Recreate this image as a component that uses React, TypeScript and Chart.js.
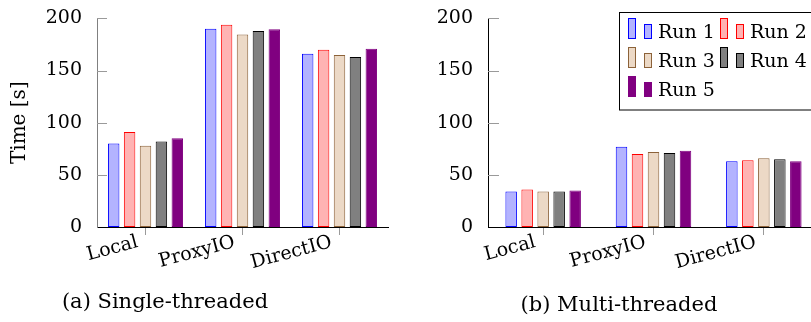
import React, { useEffect, useRef } from "react";
import { Chart, registerables } from "chart.js";

Chart.register(...registerables);

const categories = ["Local", "ProxyIO", "DirectIO"];
const runLabels = ["Run 1", "Run 2", "Run 3", "Run 4", "Run 5"];
const yTicks = [0, 50, 100, 150, 200];

// Single-threaded
const singleRun1 = [80, 190, 166];
const singleRun2 = [91, 194, 170];
const singleRun3 = [78, 184.5, 165];
const singleRun4 = [82, 188, 163];
const singleRun5 = [85, 189.5, 171];

// Multi-threaded
const multiRun1 = [34, 77, 63];
const multiRun2 = [36, 70, 64];
const multiRun3 = [34, 72, 66];
const multiRun4 = [34, 71, 65];
const multiRun5 = [35, 73, 63];

const fills = ["#b3b3ff", "#ffb3b3", "#ecd9c6", "#808080", "#800080"];
const borders = ["#0000ff", "#ff0000", "#8c6239", "#000000", "#800080"];

const FONT = "'DejaVu Serif', serif";

function makeInwardTicks(len: number) {
  return {
    id: "inwardTicks",
    beforeDatasetsDraw(chart: any) {
      const y = chart.scales.y;
      const ctx = chart.ctx;
      const left = chart.chartArea.left;
      ctx.save();
      ctx.strokeStyle = "#9a9a9a";
      ctx.lineWidth = 1;
      yTicks.forEach((v) => {
        if (v === 0) return;
        const p = Math.round(y.getPixelForValue(v)) + 0.5;
        ctx.beginPath();
        ctx.moveTo(left, p);
        ctx.lineTo(left + len, p);
        ctx.stroke();
      });
      ctx.restore();
    },
  };
}

const legendPlugin = {
  id: "boxLegend",
  afterDraw(chart: any) {
    const ctx = chart.ctx;
    const ds = chart.data.datasets;
    ctx.save();
    ctx.strokeStyle = "#000";
    ctx.lineWidth = 1;
    ctx.fillStyle = "#fff";
    ctx.fillRect(219.5, 12.5, chart.width, 97.5);
    ctx.strokeRect(219.5, 12.5, chart.width, 97.5);
    ctx.font = `19px ${FONT}`;
    ctx.textBaseline = "alphabetic";
    ctx.textAlign = "left";
    const colX = [228, 320];
    const rowY = [38, 67, 96];
    ds.forEach((d: any, i: number) => {
      const col = i % 2;
      const row = Math.floor(i / 2);
      const x = colX[col];
      const base = rowY[row];
      ctx.fillStyle = d.backgroundColor;
      ctx.strokeStyle = d.borderColor;
      ctx.fillRect(x + 0.5, base - 20 + 0.5, 7, 20);
      ctx.strokeRect(x + 0.5, base - 20 + 0.5, 7, 20);
      ctx.fillRect(x + 16.5, base - 14 + 0.5, 7, 14);
      ctx.strokeRect(x + 16.5, base - 14 + 0.5, 7, 14);
      ctx.fillStyle = "#000";
      ctx.fillText(d.label, x + 30, base);
    });
    ctx.restore();
  },
};

function buildDatasets(series: number[][], barPct: number, catPct: number) {
  return series.map((data, i) => ({
    label: runLabels[i],
    data,
    backgroundColor: fills[i],
    borderColor: borders[i],
    borderWidth: 1,
    borderSkipped: false,
    barPercentage: barPct,
    categoryPercentage: catPct,
  }));
}

function BarChart(props: {
  series: number[][];
  width: number;
  height: number;
  yWidth: number;
  padRight: number;
  catPct: number;
  title: string | null;
  yBorderColor: string;
  tickLen: number;
  legend: boolean;
}) {
  const ref = useRef<HTMLCanvasElement | null>(null);
  useEffect(() => {
    if (!ref.current) return;
    const plugins: any[] = [makeInwardTicks(props.tickLen)];
    if (props.legend) plugins.push(legendPlugin);
    const chart = new Chart(ref.current, {
      type: "bar",
      data: {
        labels: categories,
        datasets: buildDatasets(props.series, 0.72, props.catPct),
      },
      plugins,
      options: {
        animation: false,
        responsive: false,
        devicePixelRatio: 1,
        layout: { padding: { top: 16, right: props.padRight, left: 0, bottom: 0 } },
        plugins: { legend: { display: false }, tooltip: { enabled: false } },
        scales: {
          x: {
            grid: {
              display: true,
              drawOnChartArea: false,
              drawTicks: true,
              tickLength: 8,
              offset: false,
              color: "#9a9a9a",
            },
            border: { display: true, color: "#000", width: 1 },
            ticks: {
              color: "#000",
              font: { family: FONT, size: 19 },
              minRotation: 15,
              maxRotation: 15,
              padding: -4,
              labelOffset: -8,
              autoSkip: false,
            },
            afterFit: (s: any) => {
              s.height = props.height - 227;
            },
          },
          y: {
            min: 0,
            max: 200,
            grid: { display: false },
            border: { display: true, color: props.yBorderColor, width: 1 },
            afterBuildTicks: (s: any) => {
              s.ticks = yTicks.map((v) => ({ value: v }));
            },
            ticks: {
              color: "#000",
              font: { family: FONT, size: 19 },
              padding: 7,
            },
            title: props.title
              ? {
                  display: true,
                  text: props.title,
                  color: "#000",
                  font: { family: FONT, size: 20 },
                  padding: { top: 8, bottom: 0 },
                }
              : { display: false },
            afterFit: (s: any) => {
              s.width = props.yWidth;
            },
          },
        },
      } as any,
    });
    return () => chart.destroy();
  }, []);
  return <canvas ref={ref} width={props.width} height={props.height} style={{ display: "block" }} />;
}

const captionStyle: React.CSSProperties = {
  position: "absolute",
  fontFamily: FONT,
  fontSize: 21,
  lineHeight: "24px",
  color: "#000",
  whiteSpace: "nowrap",
  transform: "translateX(-50%)",
};

export default function App() {
  return (
    <div
      style={{
        position: "fixed",
        left: 0,
        top: 0,
        width: 811,
        height: 322,
        overflow: "hidden",
        background: "#fff",
      }}
    >
      <div style={{ position: "absolute", left: 0, top: 0 }}>
        <BarChart
          series={[singleRun1, singleRun2, singleRun3, singleRun4, singleRun5]}
          width={400}
          height={290}
          yWidth={97}
          padRight={12}
          catPct={0.82}
          title="Time [s]"
          yBorderColor="#808080"
          tickLen={10}
          legend={false}
        />
      </div>
      <div style={{ position: "absolute", left: 400, top: 0 }}>
        <BarChart
          series={[multiRun1, multiRun2, multiRun3, multiRun4, multiRun5]}
          width={430}
          height={290}
          yWidth={88}
          padRight={11}
          catPct={0.725}
          title={null}
          yBorderColor="#000"
          tickLen={11}
          legend={true}
        />
      </div>
      <div style={{ ...captionStyle, left: 165, top: 289 }}>(a) Single-threaded</div>
      <div style={{ ...captionStyle, left: 619, top: 292 }}>(b) Multi-threaded</div>
    </div>
  );
}
